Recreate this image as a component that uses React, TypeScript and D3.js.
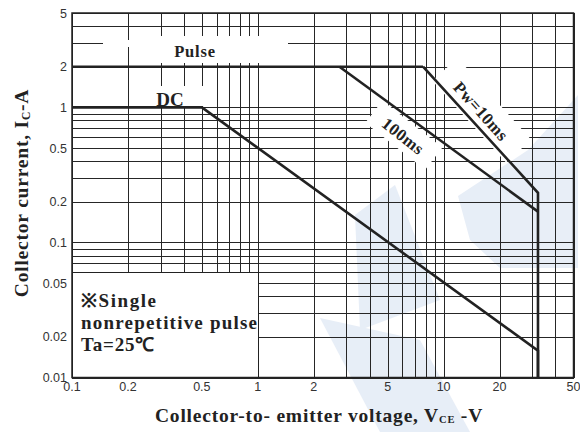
import { useMemo } from "react";
import * as d3 from "d3";

// safe operating area
const pulseLine = [
  { v: 0.1, i: 2 },
  { v: 7.75, i: 2 },
];
const pw10ms = [
  { v: 7.75, i: 2 },
  { v: 32.2, i: 0.233 },
  { v: 32.2, i: 0.01 },
];
const pw100ms = [
  { v: 2.75, i: 2 },
  { v: 32.2, i: 0.169 },
];
const dcLine = [
  { v: 0.1, i: 1 },
  { v: 0.5, i: 1 },
  { v: 32.2, i: 0.0158 },
  { v: 32.2, i: 0.01 },
];

const xTickLabels = [0.1, 0.2, 0.5, 1, 2, 5, 10, 20, 50];
const yTickLabels = [0.01, 0.02, 0.05, 0.1, 0.2, 0.5, 1, 2, 5];
const noteLines = ["※Single", "nonrepetitive pulse", "Ta=25℃"];
const noteWidths = [75, 176, 0];

const W = 580;
const H = 432;
const margin = { top: 13, right: 6.5, bottom: 54.5, left: 72 };

const serif = "'Liberation Serif', 'Times New Roman', serif";
const sans = "'Liberation Sans', Arial, sans-serif";
const ink = "#222";

export default function App() {
  const x = useMemo(
    () => d3.scaleLog().domain([0.1, 50]).range([margin.left, W - margin.right]),
    []
  );
  const y = useMemo(
    () => d3.scaleLog().domain([0.01, 5]).range([H - margin.bottom, margin.top]),
    []
  );
  const line = d3
    .line<{ v: number; i: number }>()
    .x((d) => x(d.v))
    .y((d) => y(d.i));

  const crisp = (n: number) => Math.round(n) + 0.5;
  const x0 = margin.left;
  const x1 = W - margin.right;
  const y0 = H - margin.bottom;
  const y1 = margin.top;

  // label anchors, in data units beside the curves
  const pwPos = [x(15.9), y(0.94)];
  const msPos = [x(6.06), y(0.614)];

  return (
    <svg
      width={W}
      height={H}
      style={{ position: "absolute", left: 0, top: 0, background: "#fff" }}
    >
      {/* faint watermark */}
      <g fill="#dbe5f3" opacity={0.65}>
        <polygon points="458,196 528,150 578,95 578,268 500,268 470,240" />
        <polygon points="355,215 395,185 440,300 360,330" />
        <polygon points="320,318 420,340 470,432 380,432" />
      </g>

      {/* grid */}
      <g stroke="#262626" strokeWidth={1} shapeRendering="crispEdges">
        {x.ticks().map((t) => (
          <line key={"gx" + t} x1={crisp(x(t))} x2={crisp(x(t))} y1={y1} y2={y0} />
        ))}
        {y.ticks().map((t) => (
          <line key={"gy" + t} x1={x0} x2={x1} y1={crisp(y(t))} y2={crisp(y(t))} />
        ))}
      </g>

      {/* white backgrounds behind the labels */}
      <g fill="#fff">
        <rect x={135} y={36} width={153} height={27} />
        <rect x={103} y={40} width={40} height={7} />
        <rect x={140} y={86} width={64} height={20} />
        <rect
          x={-55}
          y={-18}
          width={110}
          height={34}
          transform={`translate(${pwPos[0]},${pwPos[1]}) rotate(48)`}
        />
        <rect
          x={-38}
          y={-15}
          width={76}
          height={28}
          transform={`translate(${msPos[0]},${msPos[1]}) rotate(38)`}
        />
      </g>
      <rect
        x={x0}
        y={crisp(y(0.06))}
        width={crisp(x(1)) - x0}
        height={y0 - crisp(y(0.06))}
        fill="#fff"
        stroke={ink}
        strokeWidth={1}
        shapeRendering="crispEdges"
      />

      {/* frame */}
      <rect
        x={x0}
        y={y1}
        width={x1 - x0}
        height={y0 - y1}
        fill="none"
        stroke={ink}
        strokeWidth={1.5}
      />

      {/* SOA curves */}
      <g fill="none" stroke={ink} strokeWidth={2.6} strokeLinejoin="miter">
        <path d={line(pulseLine) ?? ""} />
        <path d={line(pw10ms) ?? ""} />
        <path d={line(pw100ms) ?? ""} />
        <path d={line(dcLine) ?? ""} />
      </g>

      {/* curve labels */}
      <g fontFamily={serif} fontWeight="bold" fill={ink}>
        <text x={195} y={57} fontSize={16.5} textAnchor="middle" letterSpacing={0.8}>
          Pulse
        </text>
        <text x={170} y={106} fontSize={19} textAnchor="middle">
          DC
        </text>
        <text
          fontSize={17}
          textAnchor="middle"
          transform={`translate(${pwPos[0]},${pwPos[1]}) rotate(48)`}
          dy={6}
          letterSpacing={0.4}
        >
          Pw=10ms
        </text>
        <text
          fontSize={17}
          textAnchor="middle"
          transform={`translate(${msPos[0]},${msPos[1]}) rotate(38)`}
          dy={6}
          letterSpacing={0.4}
        >
          100ms
        </text>
      </g>

      {/* note box text */}
      <g fontFamily={serif} fontWeight="bold" fill={ink} fontSize={19}>
        {noteLines.map((s, k) => (
          <text
            key={s}
            x={81}
            y={307 + k * 22}
            textLength={noteWidths[k] || undefined}
            lengthAdjust="spacing"
            letterSpacing={noteWidths[k] ? undefined : 0.8}
          >
            {s}
          </text>
        ))}
      </g>

      {/* tick labels */}
      <g fontFamily={sans} fontSize={12.5} fill="#333">
        {xTickLabels.map((t) => (
          <text key={"xl" + t} x={x(t)} y={y0 + 13} textAnchor="middle">
            {t}
          </text>
        ))}
        {yTickLabels.map((t) => (
          <text key={"yl" + t} x={x0 - 5} y={y(t) + 4.5} textAnchor="end">
            {t}
          </text>
        ))}
      </g>

      {/* axis titles */}
      <text
        x={319}
        y={422}
        textAnchor="middle"
        fontFamily={serif}
        fontWeight="bold"
        fontSize={19.5}
        fill={ink}
        letterSpacing={0.8}
      >
        Collector-to- emitter voltage, V
        <tspan fontSize={10.5} dy={1}>CE</tspan>
        <tspan dy={-1}> -V</tspan>
      </text>
      <text
        transform="translate(28,193) rotate(-90)"
        textAnchor="middle"
        fontFamily={serif}
        fontWeight="bold"
        fontSize={19.5}
        fill={ink}
        letterSpacing={0.8}
      >
        Collector current, I
        <tspan fontSize={11.5} dy={2}>C</tspan>
        <tspan dy={-2}>-A</tspan>
      </text>
    </svg>
  );
}
